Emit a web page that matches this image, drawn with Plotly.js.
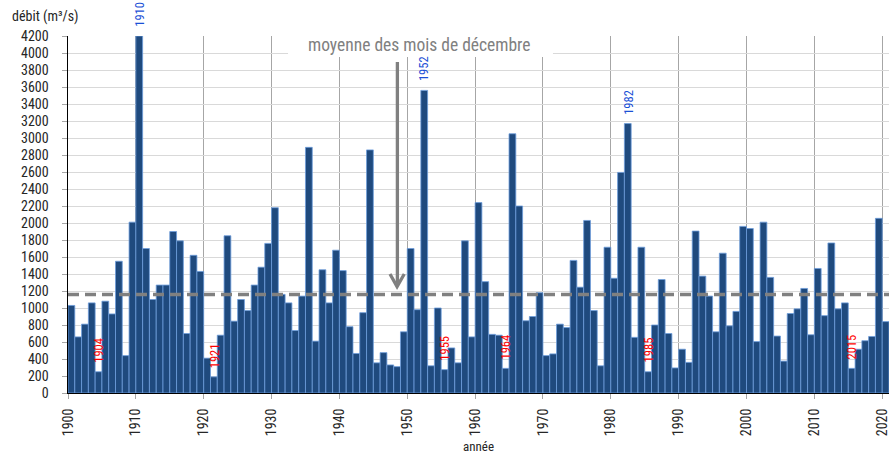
<!DOCTYPE html>
<html>
<head>
<meta charset="utf-8">
<script src="https://cdn.plot.ly/plotly-3.0.1.min.js"></script>
<style>html,body{margin:0;padding:0;background:#fff;}#chart{width:889px;height:454px;}</style>
</head>
<body>
<div id="chart"></div>
<script>
// ---- data ----
const firstYear = 1900;
const debit = [
  1030, 660, 810, 1060, 250, 1080, 930, 1550, 440, 2010,      // 1900-1909
  4200, 1700, 1100, 1270, 1270, 1900, 1790, 700, 1620, 1430,  // 1910-1919
  410, 190, 680, 1850, 845, 1100, 970, 1270, 1480, 1760,      // 1920-1929
  2180, 1160, 1060, 735, 1140, 2890, 610, 1450, 1060, 1680,   // 1930-1939
  1440, 780, 465, 945, 2860, 355, 475, 330, 310, 720,         // 1940-1949
  1700, 980, 3560, 320, 1000, 275, 530, 355, 1790, 660,       // 1950-1959
  2240, 1310, 690, 680, 290, 3050, 2200, 850, 900, 1180,      // 1960-1969
  440, 460, 810, 770, 1560, 1245, 2030, 970, 320, 1715,       // 1970-1979
  1350, 2595, 3170, 655, 1715, 250, 800, 1335, 700, 295,      // 1980-1989
  515, 360, 1905, 1375, 1140, 720, 1645, 790, 960, 1960,      // 1990-1999
  1935, 605, 2010, 1360, 670, 375, 935, 990, 1230, 685,       // 2000-2009
  1465, 910, 1765, 990, 1060, 290, 515, 615, 665, 2055,       // 2010-2019
  840                                                         // 2020
];
const moyenne = 1160;
const maxYears = [1910, 1952, 1982];
const minYears = [1904, 1921, 1955, 1964, 1985, 2015];
const xTickVals = [1900, 1910, 1920, 1930, 1940, 1950, 1960, 1970, 1980, 1990, 2000, 2010, 2020];
const yTickVals = [0,200,400,600,800,1000,1200,1400,1600,1800,2000,2200,2400,2600,2800,3000,3200,3400,3600,3800,4000,4200];
const yMax = 4200;

const years = debit.map((_, i) => firstYear + i);
const FONT = "'Roboto Condensed', 'Liberation Sans Narrow', 'DejaVu Sans Condensed', sans-serif";

const bars = {
  type: 'bar',
  x: years.map(y => y + 0.5),
  y: debit,
  width: 1,
  marker: {color: '#1f4a7e', line: {color: '#6d9ddc', width: 0.8}},
  hoverinfo: 'skip',
  cliponaxis: true
};
const meanLine = {
  type: 'scatter', mode: 'lines',
  x: [firstYear, firstYear + debit.length],
  y: [moyenne, moyenne],
  line: {color: '#808080', width: 3.5, dash: '11px,6px'},
  hoverinfo: 'skip'
};

function yearLabel(yr, color) {
  const v = debit[yr - firstYear];
  return {
    x: yr + 0.5, y: Math.min(v, yMax), xref: 'x', yref: 'y',
    text: String(yr), showarrow: false, textangle: -90,
    xanchor: 'center', yanchor: 'bottom', yshift: 7,
    font: {family: FONT, size: 12.5, color: color}
  };
}

const annotations = [
  ...maxYears.map(y => yearLabel(y, '#1a4fd6')),
  ...minYears.map(y => yearLabel(y, '#ff0000')),
  {x: -0.0706, y: 1.056, xref: 'paper', yref: 'paper', xanchor: 'left', yanchor: 'middle',
   text: 'débit (m³/s)', showarrow: false, font: {family: FONT, size: 14, color: '#262626'}},
  {x: 0.4287, y: 0.975, xref: 'paper', yref: 'paper', xanchor: 'center', yanchor: 'middle',
   text: 'moyenne des mois de décembre', showarrow: false, font: {family: FONT, size: 17.5, color: '#808080'}}
];

const shapes = [
  {type: 'rect', xref: 'paper', yref: 'paper', x0: 0.268, x1: 0.5907, y0: 0.941, y1: 1.03,
   fillcolor: '#ffffff', line: {width: 0}, layer: 'above'},
  {type: 'line', xref: 'paper', yref: 'paper', x0: 0.4012, x1: 0.4012, y0: 0.927, y1: 0.30,
   line: {color: '#808080', width: 3.3}, layer: 'above'},
  {type: 'path', xref: 'paper', yref: 'paper',
   path: 'M 0.3922 0.3333 L 0.4008 0.2980 L 0.4096 0.3333',
   line: {color: '#808080', width: 3.3}, layer: 'above'}
];

const layout = {
  width: 889, height: 454,
  margin: {l: 68, r: 0, t: 36, b: 61},
  paper_bgcolor: '#ffffff', plot_bgcolor: '#ffffff',
  showlegend: false, bargap: 0,
  font: {family: FONT, color: '#262626'},
  xaxis: {
    type: 'linear', range: [firstYear, firstYear + debit.length],
    tickmode: 'array', tickvals: xTickVals, ticktext: xTickVals.map(String),
    tickangle: -90, ticks: 'outside', ticklen: 5, tickcolor: '#a6a6a6',
    tickfont: {family: FONT, size: 14, color: '#262626'},
    ticklabeloverflow: 'allow', ticklabelstandoff: 4,
    showgrid: true, gridcolor: '#a6a6a6', gridwidth: 1,
    showline: true, linecolor: '#000000', linewidth: 1,
    zeroline: false, fixedrange: true,
    title: {text: 'année', font: {family: FONT, size: 13, color: '#262626'}, standoff: 8}
  },
  yaxis: {
    range: [0, yMax], tickmode: 'array', tickvals: yTickVals, ticktext: yTickVals.map(String),
    ticks: 'outside', ticklen: 5, tickcolor: '#a6a6a6',
    tickfont: {family: FONT, size: 14, color: '#262626'},
    ticklabelstandoff: 10,
    showgrid: true, gridcolor: '#d9d9d9', gridwidth: 1,
    showline: true, linecolor: '#000000', linewidth: 1.5,
    zeroline: false, fixedrange: true
  },
  annotations: annotations,
  shapes: shapes
};

Plotly.newPlot('chart', [bars, meanLine], layout, {displayModeBar: false, staticPlot: true});
</script>
</body>
</html>
